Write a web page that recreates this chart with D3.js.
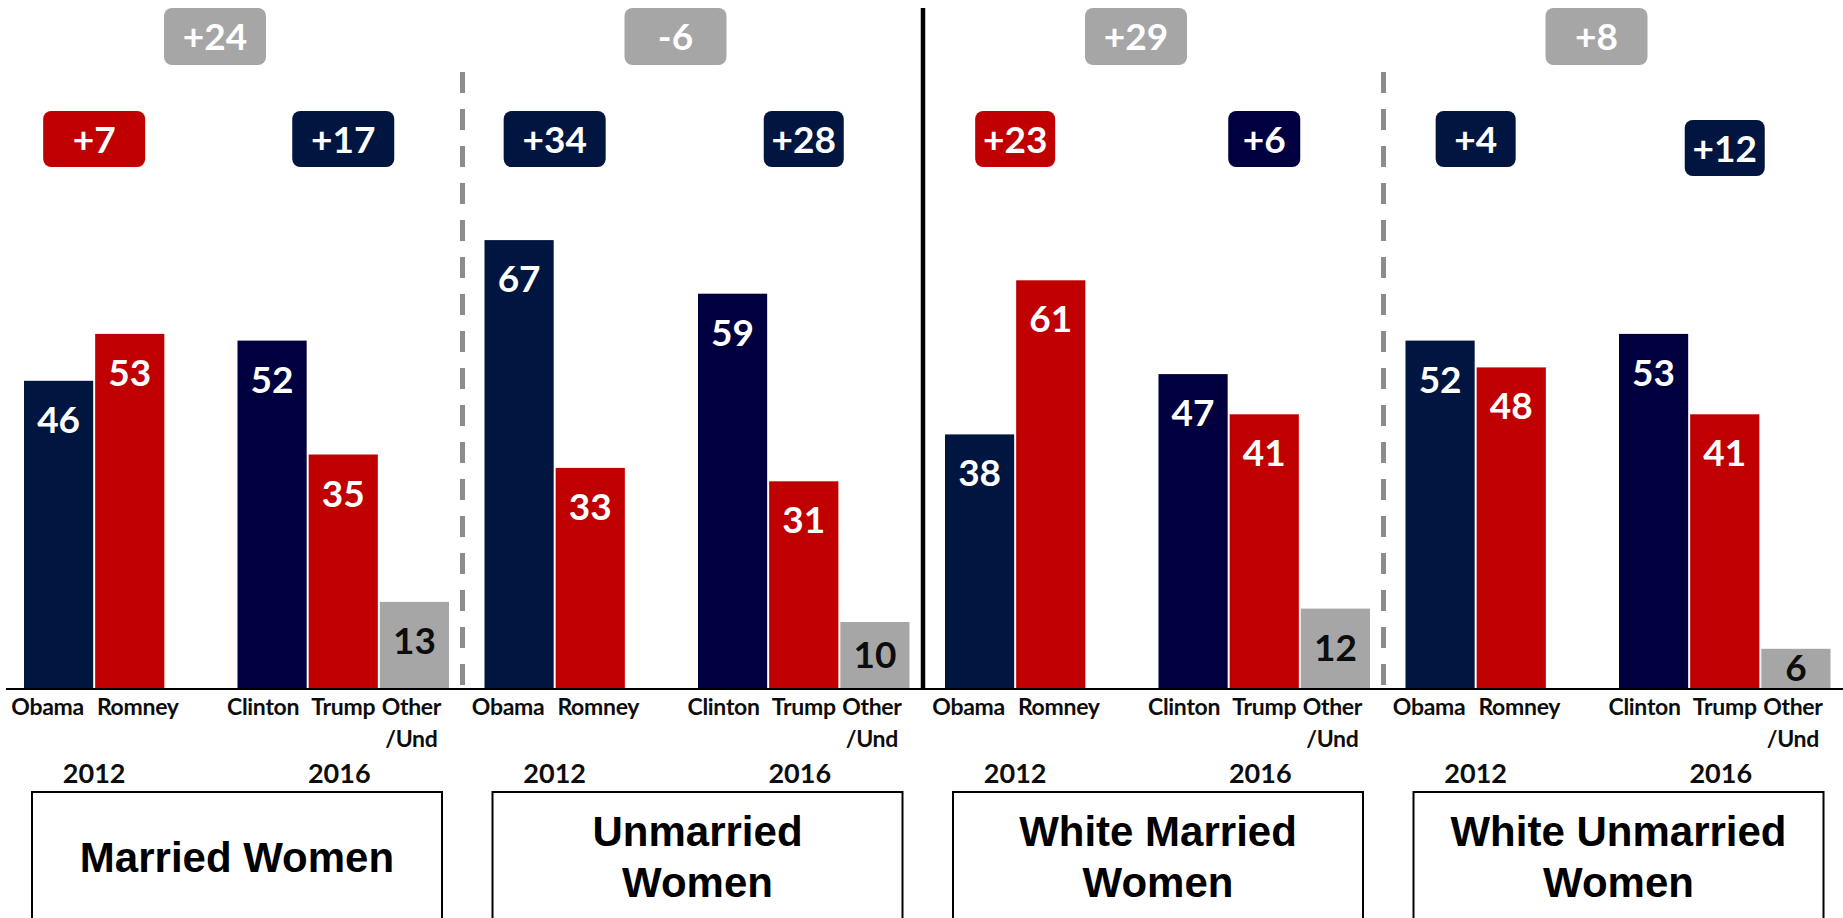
<!DOCTYPE html>
<html>
<head>
<meta charset="utf-8">
<script src="https://cdn.jsdelivr.net/npm/d3@7"></script>
<style>
  html, body { margin: 0; padding: 0; background: #fff; }
  svg { display: block; }
</style>
</head>
<body>
<svg id="chart" width="1843" height="918"></svg>
<script>
// ---------------- DATA ----------------
const groups = ["Married Women", "Unmarried Women", "White Married Women", "White Unmarried Women"];
const groupTitleLines = [["Married Women"], ["Unmarried", "Women"], ["White Married", "Women"], ["White Unmarried", "Women"]];
const candidates = ["Obama", "Romney", "Clinton", "Trump", "Other"];
const candidateLabels = [["Obama"], ["Romney"], ["Clinton"], ["Trump"], ["Other", "/Und"]];
const years = ["2012", "2016"];
const obama   = [46, 67, 38, 52];
const romney  = [53, 33, 61, 48];
const clinton = [52, 59, 47, 53];
const trump   = [35, 31, 41, 41];
const other   = [13, 10, 12, 6];
const margin2012 = ["+7", "+34", "+23", "+4"];
const margin2012Party = ["R", "D", "R", "D"];
const margin2016 = ["+17", "+28", "+6", "+12"];
const margin2016Party = ["D", "D", "D2", "D"];
const shift = ["+24", "-6", "+29", "+8"];

// ---------------- STYLE / LAYOUT ----------------
const W = 1843, H = 918;
const colors = { Obama: "#001640", Romney: "#C00000", Clinton: "#000040", Trump: "#C00000", Other: "#A6A6A6" };
const partyColor = { R: "#C00000", D: "#001640", D2: "#000040" };
const badge2012W = [102, 102, 80, 80];
const badge2016W = [102, 80, 72, 80];
const badge2016Dy = [0, 0, 0, 9];
const labelNudge = [-11, 8, -9, 0, -3];
const numFont = "Lato, 'Open Sans', sans-serif";
const titleFont = "'Liberation Sans', Arial, sans-serif";
const slotOf = { Obama: 0, Romney: 1, Clinton: 3, Trump: 4, Other: 5 };
const seriesValues = { Obama: obama, Romney: romney, Clinton: clinton, Trump: trump, Other: other };

const svg = d3.select("#chart");

const xGroup = d3.scaleBand().domain(groups).range([2, 1844]);
const xSlot = d3.scaleBand().domain(d3.range(6)).range([22, 447]).paddingInner(0.028);
const y = d3.scaleLinear().domain([0, 100]).range([689, 19]);
const baseY = y(0);

// separators
groups.forEach((g, i) => {
  if (i === 0) return;
  const x = xGroup(g);
  if (i === 2) {
    svg.append("line").attr("x1", x).attr("x2", x).attr("y1", 8).attr("y2", baseY)
      .attr("stroke", "#000").attr("stroke-width", 4.5);
  } else {
    svg.append("line").attr("x1", x).attr("x2", x).attr("y1", 72).attr("y2", baseY)
      .attr("stroke", "#8C8C8C").attr("stroke-width", 5).attr("stroke-dasharray", "21,16");
  }
});

// bars
const barData = [];
groups.forEach((g, gi) => {
  candidates.forEach(c => barData.push({ g, gi, c, v: seriesValues[c][gi] }));
});
const bx = d => xGroup(d.g) + xSlot(slotOf[d.c]);
const bw = xSlot.bandwidth();

svg.append("g").selectAll("rect").data(barData).join("rect")
  .attr("x", bx).attr("width", bw)
  .attr("y", d => y(d.v)).attr("height", d => baseY - y(d.v))
  .attr("fill", d => colors[d.c]);

// value labels
svg.append("g").selectAll("text").data(barData).join("text")
  .attr("x", d => bx(d) + bw / 2)
  .attr("y", d => Math.min(y(d.v) + 52, (y(d.v) + baseY) / 2 + 12))
  .attr("text-anchor", "middle")
  .attr("font-family", numFont).attr("font-weight", 700).attr("font-size", 37)
  .attr("fill", d => d.c === "Other" ? "#0D0D0D" : "#fff")
  .text(d => d.v);

// baseline
svg.append("line").attr("x1", 6).attr("x2", W).attr("y1", baseY).attr("y2", baseY)
  .attr("stroke", "#000").attr("stroke-width", 2);

// category labels
const catG = svg.append("g");
groups.forEach((g, gi) => {
  candidates.forEach((c, ci) => {
    const cx = xGroup(g) + xSlot(slotOf[c]) + bw / 2 + labelNudge[ci];
    const t = catG.append("text").attr("x", cx).attr("y", 715)
      .attr("text-anchor", "middle").attr("font-family", numFont)
      .attr("font-weight", 700).attr("font-size", 23).attr("letter-spacing", -0.3).attr("fill", "#0D0D0D");
    candidateLabels[ci].forEach((line, li) => {
      t.append("tspan").attr("x", cx).attr("dy", li === 0 ? 0 : 32).text(line);
    });
  });
  // year labels
  const c12 = xGroup(g) + (xSlot(0) + xSlot(1) + bw) / 2;
  const c16 = xGroup(g) + (xSlot(3) + xSlot(5) + bw) / 2;
  [c12, c16].forEach((cx, yi) => {
    catG.append("text").attr("x", cx - (yi === 1 ? 4 : 0)).attr("y", 783)
      .attr("text-anchor", "middle").attr("font-family", numFont)
      .attr("font-weight", 700).attr("font-size", 27).attr("fill", "#0D0D0D")
      .text(years[yi]);
  });

  // margin badges
  function badge(cx, cy, w, h, fill, label) {
    svg.append("rect").attr("x", cx - w / 2).attr("y", cy - h / 2).attr("width", w).attr("height", h)
      .attr("rx", 8).attr("ry", 8).attr("fill", fill);
    svg.append("text").attr("x", cx).attr("y", cy + 13.5).attr("text-anchor", "middle")
      .attr("font-family", numFont).attr("font-weight", 700).attr("font-size", 37)
      .attr("fill", "#fff").text(label);
  }
  badge(xGroup(g) + 213, 36.5, 102, 57, "#A6A6A6", shift[gi]);
  badge(c12, 139, badge2012W[gi], 56, partyColor[margin2012Party[gi]], margin2012[gi]);
  badge(c16, 139 + badge2016Dy[gi], badge2016W[gi], 56, partyColor[margin2016Party[gi]], margin2016[gi]);

  // title boxes
  const x0 = xGroup(g) + 30, x1 = xGroup(g) + 440;
  svg.append("rect").attr("x", x0).attr("y", 792).attr("width", x1 - x0).attr("height", 200)
    .attr("fill", "#fff").attr("stroke", "#000").attr("stroke-width", 2);
  const lines = groupTitleLines[gi];
  const tcx = (x0 + x1) / 2;
  lines.forEach((line, li) => {
    const yy = lines.length === 1 ? 872 : 846 + li * 51;
    svg.append("text").attr("x", tcx).attr("y", yy).attr("text-anchor", "middle")
      .attr("font-family", titleFont).attr("font-weight", 700).attr("font-size", 42)
      .attr("fill", "#000").text(line);
  });
});
</script>
</body>
</html>
